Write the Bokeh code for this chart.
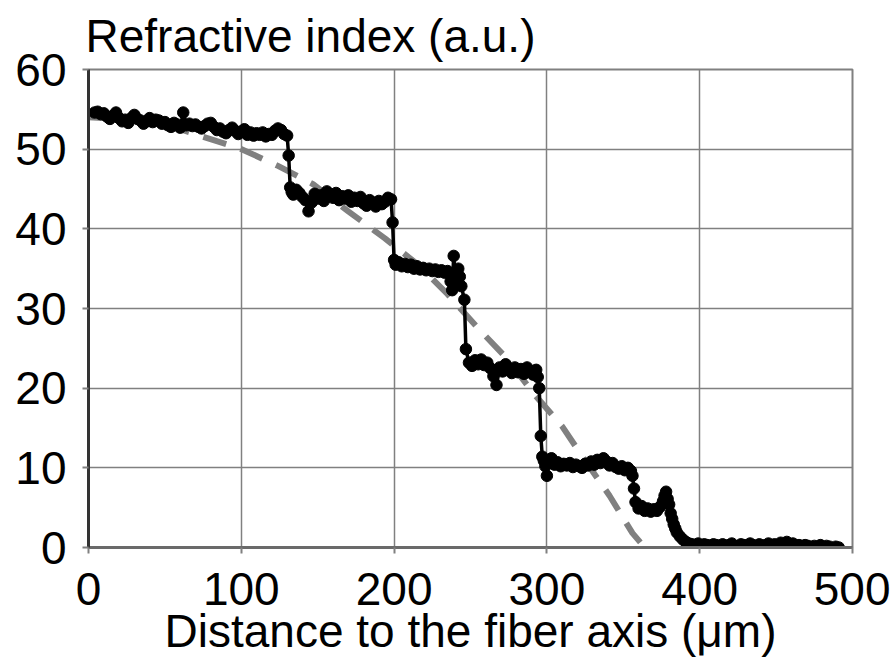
from bokeh.plotting import figure
from bokeh.embed import file_html
from bokeh.resources import INLINE
from bokeh.models import FixedTicker, ColumnDataSource

# Measured refractive index profile (distance in um, index in a.u.)
distance_um = [
    4, 6, 8, 10, 12, 14, 16, 18, 20, 22, 24, 26, 28, 30, 32, 34, 36, 38, 40, 42,
    44, 46, 48, 50, 52, 54, 56, 58, 60, 62, 64, 66, 68, 70, 72, 74, 76, 78, 80, 82,
    84, 86, 88, 90, 92, 94, 96, 98, 100, 102, 104, 106, 108, 110, 112, 114, 116, 118, 120, 122,
    124, 126, 128, 130, 131, 132, 133,
    134, 136, 138, 140, 142, 144, 146, 148, 150, 152, 154, 156, 158, 160, 162, 164, 166, 168, 170, 172,
    174, 176, 178, 180, 182, 184, 186, 188, 190, 192, 194, 196, 198, 199, 200,
    201, 203, 205, 207, 209, 211, 213, 215, 217, 219, 221, 223, 225, 227, 229, 231, 233, 235,
    237, 238, 239, 240, 241, 242, 243, 244, 246, 247,
    249, 251, 253, 255, 257, 259, 261, 263, 265, 267, 269, 271, 273, 275, 277, 279, 281, 283,
    285, 287, 289, 291, 293, 294, 295, 296,
    297, 298, 299, 300, 301, 303, 305, 307, 309, 311, 313, 315, 317, 319, 321, 323, 325, 327,
    329, 331, 333, 335, 337, 339, 341, 343, 345, 347, 349, 351, 353, 355, 356, 357, 358,
    360, 362, 364, 366, 368, 370, 372, 374, 376, 377, 378, 379, 380, 381, 382, 383, 384, 385,
    387, 389, 391, 393,
    395, 397, 399, 401, 403, 405, 407, 409, 411, 413, 415, 417, 419, 421, 423, 425, 427, 429,
    431, 433, 435, 437, 439, 441, 443, 445, 447, 449, 451, 453, 455, 457, 459, 461, 463, 465,
    467, 469, 471, 473, 475, 477, 479, 481, 483, 485, 487, 489, 491,
]
refractive_index = [
    54.6, 54.7, 54.4, 54.5, 54.1, 53.8, 54.2, 54.6, 53.9, 53.5, 53.7, 53.3, 53.9, 54.3, 53.8, 53.6, 53.2, 53.5, 53.9, 53.4,
    53.7, 53.6, 53.2, 53.4, 53.0, 52.8, 53.3, 53.1, 52.7, 54.6, 53.0, 53.2, 52.9, 53.1, 52.8, 52.6, 52.9, 53.2, 53.3, 52.8,
    52.4, 52.6, 52.2, 52.0, 52.4, 52.7, 52.3, 51.9, 52.2, 52.5, 51.8, 52.1, 51.7, 52.0, 51.8, 52.1, 51.6, 51.9, 51.8, 52.3,
    52.6, 52.4, 51.9, 51.7, 49.2, 45.2, 44.6,
    44.3, 44.9, 44.5, 44.0, 43.6, 42.2, 43.3, 44.4, 43.8, 44.2, 43.5, 44.7, 44.3, 43.9, 44.5, 43.6, 44.1, 43.8, 44.2, 43.4,
    43.9, 43.5, 44.0, 43.2, 42.9, 43.6, 43.3, 42.8, 43.5, 43.1, 43.4, 43.9, 43.7, 40.8, 36.1,
    35.5, 35.8, 35.3, 35.6, 35.2, 35.5, 35.0, 35.3, 34.9, 35.1, 34.8, 35.0, 34.7, 34.9, 34.6, 34.8, 34.5, 34.7,
    33.4, 32.3, 36.6, 34.2, 33.1, 35.0, 34.0, 32.8, 31.1, 24.9,
    23.2, 22.8, 23.5, 23.0, 23.6, 22.9, 23.2, 22.5, 21.5, 20.4, 22.6, 22.1, 23.0, 22.3, 21.9, 22.6, 22.0, 22.4,
    21.8, 22.6, 22.1, 21.7, 22.3, 21.4, 20.0, 14.0,
    11.4, 10.9, 10.2, 9.0, 10.6, 11.2, 10.4, 10.7, 10.2, 10.5, 10.3, 10.6, 10.1, 10.4, 10.2, 10.0, 10.5, 10.3,
    10.8, 10.4, 11.0, 10.6, 11.2, 10.8, 10.3, 10.6, 10.1, 9.9, 10.2, 9.7, 10.0, 9.6, 9.0, 7.4, 5.7,
    4.9, 5.2, 4.6, 4.9, 4.5, 4.8, 4.6, 5.1, 5.8, 6.5, 7.0, 6.1, 5.4, 4.3, 3.6, 2.9, 2.4, 1.9,
    1.4, 1.0, 0.7, 0.5,
    0.4, 0.3, 0.5, 0.2, 0.4, 0.3, 0.2, 0.4, 0.3, 0.1, 0.4, 0.2, 0.3, 0.5, 0.2, 0.1, 0.4, 0.3,
    0.2, 0.5, 0.3, 0.1, 0.4, 0.2, 0.3, 0.5, 0.2, 0.4, 0.3, 0.6, 0.3, 0.7, 0.4, 0.5, 0.2, 0.3,
    0.1, 0.3, 0.2, 0.0, 0.2, 0.1, 0.3, 0.0, 0.2, 0.1, -0.1, 0.1, 0.0,
]

# Fitted profile (dashed curve)
fit_distance_um = [0, 20, 40, 60, 84, 99, 124, 147, 170, 194, 215, 235, 255, 274, 291, 310, 324, 341, 356, 364]
fit_index = [54.0, 53.8, 53.3, 52.5, 51.0, 50.1, 47.9, 45.6, 42.2, 38.8, 35.6, 31.8, 27.5, 23.7, 19.4, 15.2, 11.2, 6.5, 1.8, 0.0]

x_ticks = [0, 100, 200, 300, 400, 500]
y_ticks = [0, 10, 20, 30, 40, 50, 60]

FONT = "Liberation Sans"

p = figure(width=890, height=670, x_range=(0, 500), y_range=(0, 60),
           output_backend="svg", toolbar_location=None,
           min_border_left=88, min_border_right=38, min_border_top=69, min_border_bottom=123)

p.title.text = "Refractive index (a.u.)"
p.title.text_font = FONT
p.title.text_font_size = "46px"
p.title.text_font_style = "normal"
p.title.text_color = "black"
p.title.align = "left"
p.title.offset = -3
p.title.standoff = 15

p.background_fill_color = "white"
p.border_fill_color = "white"
p.outline_line_color = "#808080"
p.outline_line_width = 2

p.xaxis.ticker = FixedTicker(ticks=x_ticks)
p.yaxis.ticker = FixedTicker(ticks=y_ticks)
p.xaxis.axis_label = "Distance to the fiber axis (\u03bcm)"
for ax in (p.xaxis, p.yaxis):
    ax.major_label_text_font = FONT
    ax.major_label_text_font_size = "46px"
    ax.major_label_text_color = "black"
    ax.minor_tick_line_color = None
    ax.major_tick_in = 0
    ax.major_tick_out = 6
    ax.major_tick_line_color = "#808080"
    ax.major_tick_line_width = 2
p.xaxis.axis_label_text_font = FONT
p.xaxis.axis_label_text_font_size = "46px"
p.xaxis.axis_label_text_font_style = "normal"
p.xaxis.axis_label_text_color = "black"
p.xaxis.axis_label_standoff = -3
p.xaxis.major_label_standoff = 19
p.yaxis.major_label_standoff = 16
p.xaxis.axis_line_color = "#6a6a6a"
p.xaxis.axis_line_width = 3
p.yaxis.axis_line_color = "#333333"
p.yaxis.axis_line_width = 3

p.grid.grid_line_color = "#808080"
p.grid.grid_line_width = 1.5

p.line(fit_distance_um, fit_index, line_color="#808080", line_width=6, line_dash="24 15")

src = ColumnDataSource(data=dict(x=distance_um, y=refractive_index))
p.line("x", "y", source=src, line_color="black", line_width=3.5)
p.scatter("x", "y", source=src, size=11.5, marker="circle", fill_color="black", line_color="black")

open("out.html", "w").write(file_html(p, INLINE))
